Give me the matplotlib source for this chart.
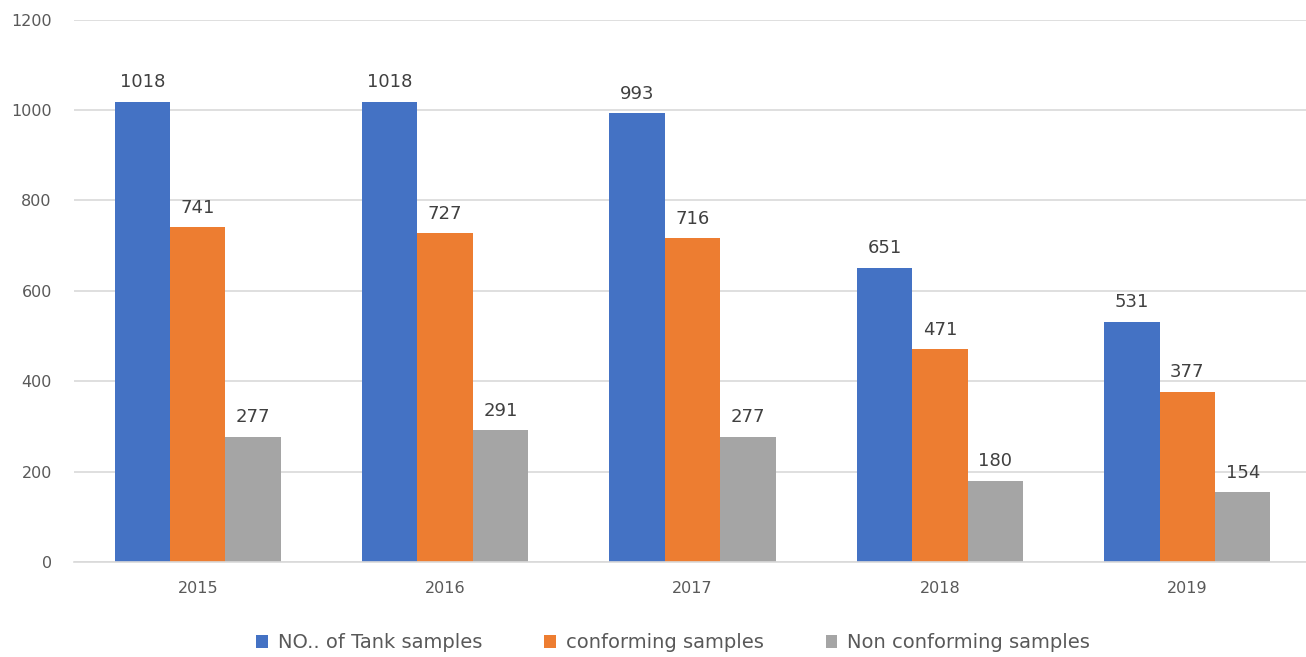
import numpy as np
import matplotlib.pyplot as plt

years = ['2015', '2016', '2017', '2018', '2019']
tank_samples = [1018, 1018, 993, 651, 531]
conforming = [741, 727, 716, 471, 377]
non_conforming = [277, 291, 277, 180, 154]

series_names = ['NO.. of Tank samples', 'conforming samples', 'Non conforming samples']
colors = ['#4472C4', '#ED7D31', '#A5A5A5']

fig = plt.figure(figsize=(13.06, 6.57), dpi=100)
ax = fig.add_axes([74 / 1306, 95 / 657, 1237 / 1306, 542.5 / 657])

x = np.arange(len(years))
w = 0.224
for i, (vals, name, col) in enumerate(zip([tank_samples, conforming, non_conforming], series_names, colors)):
    bars = ax.bar(x + (i - 1) * w, vals, width=w, color=col, label=name, zorder=2)
    for b, v in zip(bars, vals):
        ax.annotate(str(v), (b.get_x() + b.get_width() / 2, v), xytext=(0, 14),
                    textcoords='offset points', ha='center', va='center',
                    fontsize=13, color='#404040')

ax.set_xlim(-0.5, 4.5)
ax.set_ylim(0, 1200)
ax.set_yticks(range(0, 1201, 200))
ax.set_xticks(x)
ax.set_xticklabels(years)

ax.grid(axis='y', color='#D9D9D9', linewidth=1.2, zorder=0)
for s in ['left', 'right', 'top']:
    ax.spines[s].set_visible(False)
ax.spines['bottom'].set_color('#D9D9D9')
ax.spines['bottom'].set_linewidth(1.2)
ax.tick_params(axis='both', length=0, labelsize=11.5, labelcolor='#595959')
ax.tick_params(axis='x', pad=14)
ax.tick_params(axis='y', pad=16)

ax.legend(loc='center', bbox_to_anchor=(673 / 1306, 14 / 657), bbox_transform=fig.transFigure,
          ncol=3, frameon=False, fontsize=14, handlelength=0.6, handleheight=0.6,
          handletextpad=0.5, columnspacing=3.2, labelcolor='#595959')

plt.savefig('out.png', dpi=100)
plt.close()
